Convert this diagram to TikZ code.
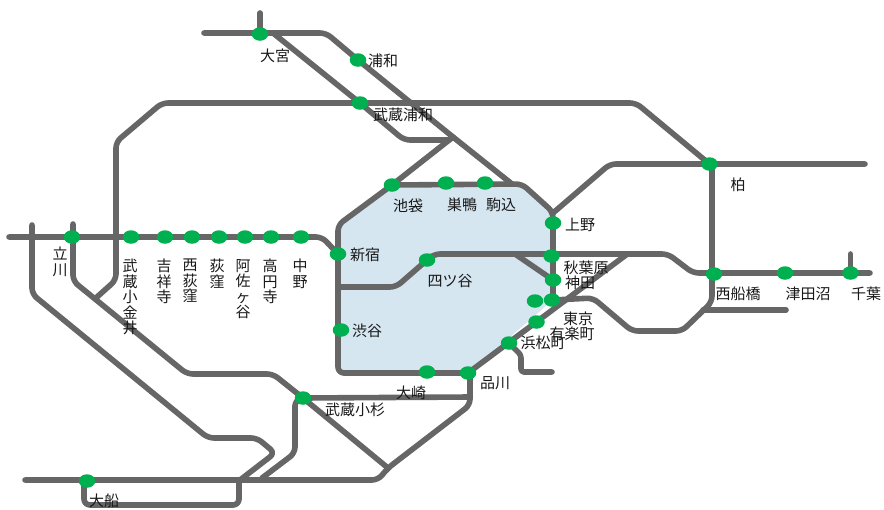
\documentclass[tikz,border=0pt]{standalone}
\usepackage{fontspec}
\setmainfont{Noto Sans CJK JP}
\usetikzlibrary{backgrounds,shapes.geometric}
\definecolor{rail}{HTML}{666666}
\definecolor{stn}{HTML}{00B050}
\definecolor{area}{HTML}{D5E6F1}
\tikzset{
  station/.style={ellipse,fill=stn,minimum width=16.5pt,minimum height=13.5pt,inner sep=0pt},
  route/.style={draw=rail,line width=5.6pt,rounded corners=6pt,line cap=round,line join=round},
  lab/.style={font=\fontsize{15}{15.5}\selectfont,inner sep=0pt,align=center,text=black!90}
}
\begin{document}
\begin{tikzpicture}[x=1pt,y=-1pt]
\useasboundingbox (0,0) rectangle (884,509);
% stations
\foreach \n/\x/\y in {omiya/260/34,urawa/358/60,musashiurawa/360/103,ikebukuro/392/185,sugamo/446/183,komagome/485/183,
  ueno/553/223,akihabara/551.5/256,kanda/553/280,yurakucho/535/301,tokyo/552/300,yuraku2/536.5/322,hamamatsucho/509/343,
  shinagawa/468/373,osaki/427/372,shibuya/341/330,shinjuku/338/254,yotsuya/427/260,kashiwa/709.5/164,nishifunabashi/714/274,
  tsudanuma/785/273,chiba/850.5/273,tachikawa/72/237,koganei/131/237,kichijoji/165/237,nishiogi/192/237,ogikubo/219/237,
  asagaya/245/237,koenji/271/237,nakano/301/237,kosugi/303/398,ofuna/87/481}
  {\node[station] (\n) at (\x,\y) {};}
% junctions
\coordinate (j1) at (453,137);
\coordinate (j1b) at (449,140);
\coordinate (j2) at (626,255);
\coordinate (j3) at (388,468);
\coordinate (j4) at (470,397);
\coordinate (j5) at (240,480);
\coordinate (j6) at (703,310);
\coordinate (j7) at (97,297);
\coordinate (j8) at (338,287);
\coordinate (j9) at (553,300);
% lines
\begin{scope}[on background layer]
\fill[white] (0,0) rectangle (884,509);
\fill[area] (338,373) -- (338,225) -- (ikebukuro.center) -- (520,184) -- (553,212) -- (553,300) -- (shinagawa.center) -- cycle;
\draw[route] (204,33) -- (326,33) -- (urawa.center) -- (j1) -- (512,184);
\draw[route] (ikebukuro.center) -- (522,184) -- (553,212) -- (j9);
\draw[route] (273,33) -- (musashiurawa.center) -- (404,140) -- (j1b);
\draw[route] (j1) -- (ikebukuro.center) -- (338,225) -- (338,373) -- (shinagawa.center);
\draw[route] (omiya.center) -- (260,13);
\draw[route] (j7) -- (116,280) -- (116,142) -- (162,103) -- (636,103) -- (kashiwa.center) -- (712,164) -- (712,302) -- (682,331) -- (632,331) -- (593,298) -- (j9);
\draw[route] (553,213) -- (610,164) -- (kashiwa.center) -- (865,164);
\draw[route] (j6) -- (786,310);
\draw[route] (9,237) -- (322,237) -- (shinjuku.center);
\draw[route] (j8) -- (396,287) -- (yotsuya.center) -- (434,254) -- (668,254) -- (693,273) -- (870,273);
\draw[route] (515,254) -- (kanda.center);
\draw[route] (chiba.center) -- (850.5,254);
\draw[route] (j2) -- (shinagawa.center);
\draw[route] (kosugi.center) -- (j4);
\draw[route] (470,370) -- (470,405) -- (j3) -- (378,480) -- (25,480);
\draw[route] (kosugi.center) -- (j3);
\draw[route] (73,224) -- (73,281) -- (187,374) -- (273,374) -- (kosugi.center);
\draw[route] (32,225) -- (32,294) -- (208,438) -- (257,438) -- (275,453) -- (j5);
\draw[route] (kosugi.center) -- (295,400) -- (295,453) -- (262,478);
\draw[route] (84,481) -- (84,505) -- (239,505) -- (239,480);
\draw[route,rounded corners=3pt] (hamamatsucho.center) -- (521,355) -- (521,372) -- (552,372);
\end{scope}
% labels
\foreach \n/\x/\y/\t in {l1/275/56/大宮,l2/383/61/浦和,l3/403/115/武蔵浦和,l4/408/206/池袋,l5/462/205/巣鴨,l6/501/205/駒込,
  l7/580/225/上野,l8/586/268/秋葉原,l9/580/283/神田,l10/578/319/東京,l11/572/334/有楽町,l12/543/343/浜松町,
  l13/495/383/品川,l14/411/393/大崎,l15/367/331/渋谷,l16/450/281/四ツ谷,l17/365/255/新宿,l18/355/410/武蔵小杉,
  l19/738/185/柏,l20/738/294/西船橋,l21/808/294/津田沼,l22/866/294/千葉,l23/104/501/大船}
  {\node[lab] (\n) at (\x,\y) {\t};}
\node[lab,anchor=north] (v1) at (60,247) {立\\川};
\node[lab,anchor=north] (v2) at (130,259) {武\\蔵\\小\\金\\井};
\node[lab,anchor=north] (v3) at (164,259) {吉\\祥\\寺};
\node[lab,anchor=north] (v4) at (190,259) {西\\荻\\窪};
\node[lab,anchor=north] (v5) at (217,259) {荻\\窪};
\node[lab,anchor=north] (v6) at (243,259) {阿\\佐\\ヶ\\谷};
\node[lab,anchor=north] (v7) at (270,259) {高\\円\\寺};
\node[lab,anchor=north] (v8) at (300,259) {中\\野};
\end{tikzpicture}
\end{document}
